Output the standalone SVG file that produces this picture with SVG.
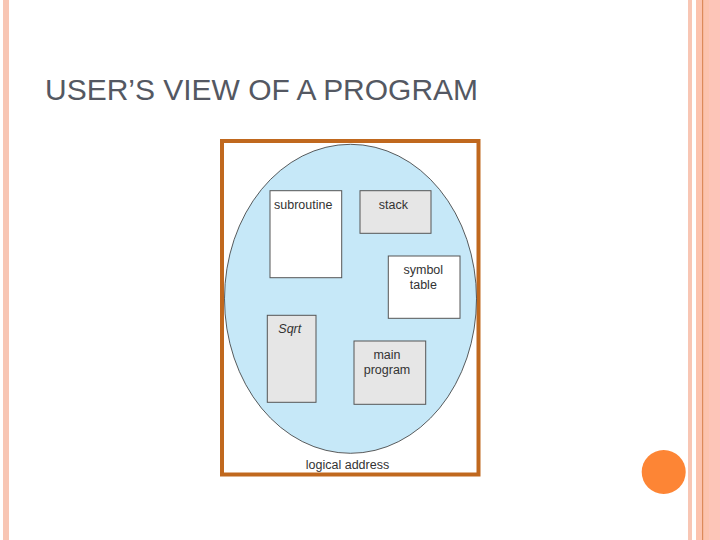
<svg xmlns="http://www.w3.org/2000/svg" width="720" height="540" viewBox="0 0 720 540">
<style>
.lbl{font-family:"Liberation Sans",Arial,sans-serif;font-size:12.5px;fill:#333333}
.box{stroke:#555555;stroke-width:1}
.white{fill:#ffffff}
.grey{fill:#e6e6e6}
</style>
<rect x="0" y="0" width="720" height="540" fill="#ffffff"/>
<g id="decor">
<rect x="3" y="0" width="6" height="540" fill="#f8c6b4"/>
<rect x="688" y="0" width="4" height="540" fill="#f8c6b4"/>
<rect x="696" y="0" width="24" height="540" fill="#fcc3ae"/>
<rect x="709" y="0" width="11" height="540" fill="#fdc5b8"/>
<rect x="702" y="0" width="1.2" height="540" fill="#dd8a5a"/>
<circle cx="663.7" cy="472" r="22" fill="#fd8535"/>
</g>
<text id="title" x="45" y="100" font-family="'Liberation Sans',Arial,sans-serif" font-size="30" fill="#545862" textLength="433" lengthAdjust="spacingAndGlyphs">USER’S VIEW OF A PROGRAM</text>
<g id="frame">
<rect x="222" y="141" width="256.5" height="333.5" fill="#ffffff" stroke="#c0681e" stroke-width="4"/>
</g>
<g id="space">
<ellipse cx="350.5" cy="298.8" rx="126" ry="154.5" fill="#c6e8f8" stroke="#333333" stroke-width="0.8"/>
</g>
<g id="subroutine">
<rect class="box white" x="270" y="190.7" width="71.7" height="87"/>
<text class="lbl" x="274" y="209">subroutine</text>
</g>
<g id="stack">
<rect class="box grey" x="360" y="190.7" width="71" height="42.6"/>
<text class="lbl" x="393.3" y="209" text-anchor="middle">stack</text>
</g>
<g id="symbol-table">
<rect class="box white" x="388.3" y="256" width="71.7" height="62.3"/>
<text class="lbl" x="423.3" y="274.3" text-anchor="middle">symbol</text>
<text class="lbl" x="423.3" y="288.5" text-anchor="middle">table</text>
</g>
<g id="sqrt">
<rect class="box grey" x="267.3" y="315.3" width="48.7" height="87"/>
<text class="lbl" x="278.3" y="333.3" font-style="italic">Sqrt</text>
</g>
<g id="main-program">
<rect class="box grey" x="354" y="341" width="71.7" height="63.3"/>
<text class="lbl" x="387" y="359" text-anchor="middle">main</text>
<text class="lbl" x="387" y="373.5" text-anchor="middle">program</text>
</g>
<g id="connectors"></g>
<text class="lbl" x="347.5" y="469" text-anchor="middle">logical address</text>
</svg>
